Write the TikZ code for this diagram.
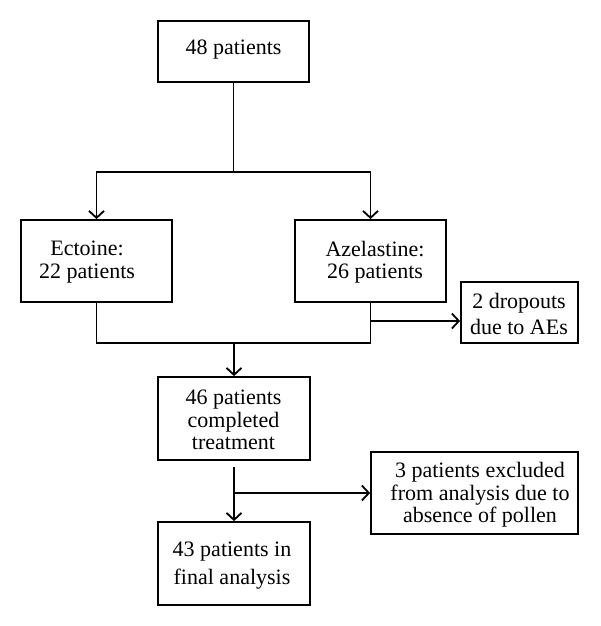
\documentclass[tikz,border=0pt]{standalone}
\usepackage{fontspec}
\setmainfont{Liberation Serif}
\newfontfamily\figserif{Liberation Serif}
\usetikzlibrary{arrows.meta}
\begin{document}
\begin{tikzpicture}[x=1pt,y=-1pt,
  box/.style={draw,line width=1.8pt,inner sep=0pt},
  txt/.style={font=\figserif\fontsize{22}{22.5}\selectfont,align=center,inner sep=0pt},
  ln/.style={line width=1.8pt},
  arr/.style={line width=1.8pt,-{Straight Barb[length=7pt,width=15pt]}}]
\useasboundingbox (0,0) rectangle (600,626);
% boxes
\node[box,minimum width=151pt,minimum height=61pt] (n48) at (233.5,51.5) {};
\node[box,minimum width=151pt,minimum height=82pt] (ecto) at (96.5,261) {};
\node[box,minimum width=151pt,minimum height=82pt] (azel) at (370.5,261) {};
\node[box,minimum width=117pt,minimum height=61pt] (drop) at (519.5,312.5) {};
\node[box,minimum width=152pt,minimum height=83pt] (n46) at (234,418.5) {};
\node[box,minimum width=207pt,minimum height=82pt] (excl) at (474.5,493) {};
\node[box,minimum width=152pt,minimum height=83pt] (n43) at (234,563.5) {};
% texts
\node[txt] (t48) at (233.5,50) {48 patients};
\node[txt] (tecto) at (87,262) {Ectoine:\\22 patients};
\node[txt] (tazel) at (375,262) {Azelastine:\\26 patients};
\node[txt,font=\figserif\fontsize{22}{26}\selectfont] (tdrop) at (519,314) {2 dropouts\\due to AEs};
\node[txt] (t46) at (233.5,420) {46 patients\\completed\\treatment};
\node[txt] (texcl) at (480,495) {3 patients excluded\\from analysis due to\\absence of pollen};
\node[txt,font=\figserif\fontsize{22}{28}\selectfont] (t43) at (232,566) {43 patients in\\final analysis};
% connectors
\coordinate (j1) at (233.5,172);
\draw[ln] (n48.south) -- (j1);
\draw[arr] (j1) -| (ecto.north);
\draw[arr] (j1) -| (azel.north);
\coordinate (j2) at (234,343);
\draw[ln] (ecto.south) -- (ecto.south |- j2) -- (azel.south |- j2) -- (azel.south);
\draw[arr] (j2) -- (n46.north);
\coordinate (y321) at (0,321);
\draw[arr] (azel.south |- y321) -- (drop.west |- y321);
\coordinate (j4) at (234,467);
\draw[arr] (j4) -- (n43.north);
\coordinate (j5) at (234,493);
\draw[arr] (j5) -- (excl.west);
\end{tikzpicture}
\end{document}
